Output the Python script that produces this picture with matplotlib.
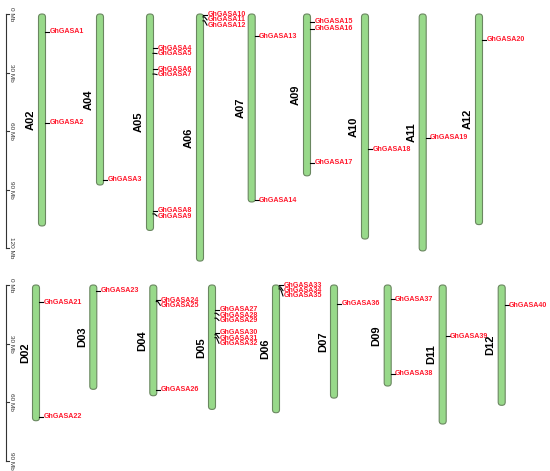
import matplotlib
matplotlib.use("Agg")
import matplotlib.pyplot as plt
from matplotlib.patches import FancyBboxPatch

# ---------------- data ----------------
top_chroms = ['A02', 'A04', 'A05', 'A06', 'A07', 'A09', 'A10', 'A11', 'A12']
top_lengths = [108.7, 87.7, 111.0, 126.7, 96.4, 83.0, 115.4, 121.5, 108.0]
bottom_chroms = ['D02', 'D03', 'D04', 'D05', 'D06', 'D07', 'D09', 'D11', 'D12']
bottom_lengths = [69.6, 53.5, 56.8, 63.8, 65.5, 58.0, 51.8, 71.3, 61.7]

gene_names = ['GhGASA%d' % i for i in range(1, 41)]
gene_chroms = ['A02', 'A02', 'A04', 'A05', 'A05', 'A05', 'A05', 'A05', 'A05',
               'A06', 'A06', 'A06', 'A07', 'A07', 'A09', 'A09', 'A09', 'A10',
               'A11', 'A12',
               'D02', 'D02', 'D03', 'D04', 'D04', 'D04', 'D05', 'D05', 'D05',
               'D05', 'D05', 'D05', 'D06', 'D06', 'D06', 'D07', 'D09', 'D09',
               'D11', 'D12']
gene_positions = [9.2, 55.7, 85.0, 17.6, 20.2, 28.4, 30.8, 100.9, 102.5,
                  0.3, 1.5, 3.5, 11.3, 95.4, 3.9, 7.5, 76.2, 69.4,
                  63.4, 13.3,
                  8.9, 67.5, 2.9, 7.7, 8.5, 53.8, 12.8, 14.5, 17.0,
                  24.5, 25.5, 27.0, 0.2, 1.0, 2.0, 9.7, 7.3, 45.6,
                  26.4, 10.4]
top_scale_ticks = [0, 30, 60, 90, 120]
bottom_scale_ticks = [0, 30, 60, 90]

# ---------------- layout ----------------
top_x = [42, 100, 150, 200, 251.7, 307, 365, 422.7, 479]
bottom_x = [36, 93.3, 153.3, 212, 276, 334, 387.7, 442.7, 501.7]
W, H = 550, 471
PX_PER_MB = 1.95
CHR_W = 7.0
LABEL_GAP = 2.7
FILL = '#98d98a'
EDGE = '#6a8760'
RED = '#ff1a2e'
FONT = ['Liberation Sans', 'DejaVu Sans']

fig = plt.figure(figsize=(W / 100, H / 100), dpi=100)


def make_axes(px_top, px_bottom, origin_px):
    ax = fig.add_axes([0, 1 - px_bottom / H, 1, (px_bottom - px_top) / H])
    ax.set_xlim(0, W)
    ax.set_ylim((px_bottom - origin_px) / PX_PER_MB, (px_top - origin_px) / PX_PER_MB)
    ax.axis('off')
    return ax


def draw_panel(ax, chroms, lengths, xs, ticks):
    # scale bar
    ax.plot([6, 6], [ticks[0], ticks[-1]], color='#333333', lw=0.8, clip_on=False)
    for t in ticks:
        ax.plot([6, 8.5], [t, t], color='#333333', lw=0.8, clip_on=False)
        ax.text(11.5, t, '%d Mb' % t, rotation=-90, ha='center', va='center',
                fontsize=4.6, color='#333333', family=FONT, clip_on=False)
    for name, length, x in zip(chroms, lengths, xs):
        p = FancyBboxPatch((x - CHR_W / 2, 0), CHR_W, length,
                           boxstyle='round,pad=0,rounding_size=3.2',
                           mutation_aspect=1 / PX_PER_MB,
                           facecolor=FILL, edgecolor=EDGE, lw=0.8, clip_on=False,
                           zorder=2)
        ax.add_patch(p)
        ax.text(x - 11, length / 2, name, rotation=90, ha='center', va='center',
                fontsize=8, fontweight='bold', family=FONT, color='black')
        # genes on this chromosome
        genes = sorted([(pos, g) for g, c, pos in zip(gene_names, gene_chroms, gene_positions)
                        if c == name])
        prev = None
        edge = x + CHR_W / 2
        for pos, g in genes:
            ly = pos if prev is None else max(pos, prev + LABEL_GAP)
            prev = ly
            ax.plot([edge - 0.5, edge + 1, edge + 3.5], [pos, pos, ly],
                    color='black', lw=0.8, zorder=3, clip_on=False)
            ax.text(edge + 4, ly, g, ha='left', va='center', fontsize=5.1,
                    fontweight='bold', color=RED, family=FONT, clip_on=False)


ax_top = make_axes(0, 260, 14)
draw_panel(ax_top, top_chroms, top_lengths, top_x, top_scale_ticks)
ax_bot = make_axes(260, 471, 285)
draw_panel(ax_bot, bottom_chroms, bottom_lengths, bottom_x, bottom_scale_ticks)
ax_top.set_zorder(2)

fig.savefig('out.png', dpi=100)
